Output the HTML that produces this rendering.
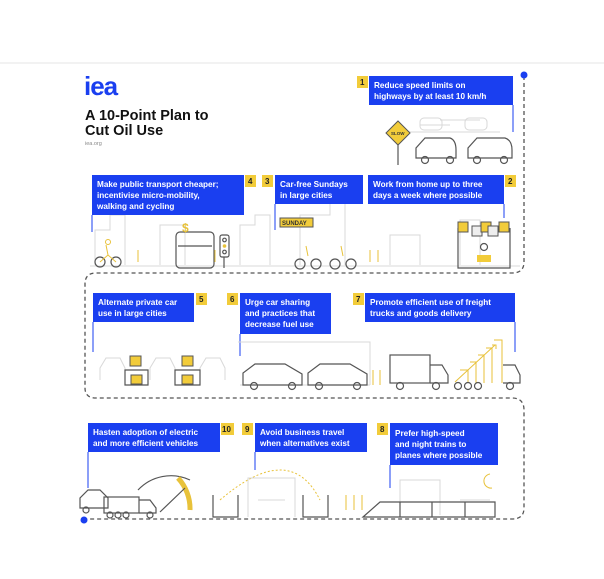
<!DOCTYPE html>
<html><head><meta charset="utf-8"><style>
html,body{margin:0;padding:0;background:#fff;width:604px;height:579px;overflow:hidden}
svg{display:block}
text{font-family:"Liberation Sans",sans-serif}
.b{fill:#1a3ff0}.y{fill:#f2cc3a}
.t{fill:#fff;font-size:8.2px;font-weight:bold}
.n{fill:#222;font-size:8px;font-weight:bold}
.g{fill:none;stroke:#d8d8d8;stroke-width:1}
.k{fill:none;stroke:#555;stroke-width:1.2}
.ye{fill:none;stroke:#e8c23a;stroke-width:1}
.bl{stroke:#1a3ff0;stroke-width:1}
</style></head><body>
<svg width="604" height="579" viewBox="0 0 604 579">
<line x1="0" y1="63" x2="604" y2="63" stroke="#e6e6e6"/>
<!-- logo -->
<text x="84" y="95" font-size="26" font-weight="bold" fill="#1a3ff0" letter-spacing="-1">iea</text>
<text x="85" y="120" font-size="14.5" font-weight="bold" fill="#111">A 10-Point Plan to</text>
<text x="85" y="135" font-size="14.5" font-weight="bold" fill="#111">Cut Oil Use</text>
<text x="85" y="145" font-size="5.5" fill="#888">iea.org</text>
<!-- dashed path -->
<path d="M524 76 V262 Q524 273 512 273 H96 Q85 273 85 284 V388 Q85 398 96 398 H512 Q524 398 524 410 V508 Q524 519 512 519 H84" fill="none" stroke="#555" stroke-width="1.3" stroke-dasharray="4,3"/>
<circle cx="524" cy="75" r="3.5" fill="#1a3ff0"/>
<circle cx="84" cy="520" r="3.5" fill="#1a3ff0"/>
<!-- city skyline faint -->
<path class="g" d="M95 265 V230 H110 V215 H125 V265 M160 265 V225 H185 V265 M240 265 V225 H255 V215 H270 V265 M300 265 V215 H330 V200 H345 V265 M390 265 V235 H420 V265 M460 265 V220 H480 V265 M90 266 H520"/>
<path class="g" d="M405 132 L500 132 M420 125 H450 M440 120 H480"/>
<rect x="420" y="118" width="22" height="12" rx="4" class="g"/><rect x="465" y="118" width="22" height="12" rx="4" class="g"/>
<!-- box1 -->
<rect x="357" y="76" width="11" height="12" class="y"/><text x="360" y="85" class="n">1</text>
<rect x="369" y="76" width="144" height="29" class="b"/>
<text x="374" y="88" class="t">Reduce speed limits on</text><text x="374" y="99" class="t">highways by at least 10 km/h</text>
<line x1="513" y1="105" x2="513" y2="132" class="bl"/>
<!-- slow sign & cars -->
<path d="M398 121 L410 133 L398 145 L386 133Z" fill="#f2cc3a" stroke="#555"/><text x="391" y="135" font-size="4.5" font-weight="bold" fill="#333">SLOW</text>
<line x1="398" y1="145" x2="398" y2="165" class="k"/>
<path class="k" d="M416 158 V148 L425 138 H450 Q456 140 456 150 V158 Z"/><circle cx="425" cy="160" r="3.5" class="k" fill="#fff"/><circle cx="450" cy="160" r="3.5" class="k" fill="#fff"/>
<path class="k" d="M468 158 V148 L477 138 H505 Q512 140 512 150 V158 Z"/><circle cx="477" cy="160" r="3.5" class="k" fill="#fff"/><circle cx="504" cy="160" r="3.5" class="k" fill="#fff"/>
<!-- row 2 boxes -->
<rect x="92" y="175" width="152" height="40" class="b"/>
<text x="97" y="187" class="t">Make public transport cheaper;</text><text x="97" y="198" class="t">incentivise micro-mobility,</text><text x="97" y="209" class="t">walking and cycling</text>
<rect x="245" y="175" width="11" height="12" class="y"/><text x="248" y="184" class="n">4</text>
<line x1="92" y1="215" x2="92" y2="232" class="bl"/>
<rect x="262" y="175" width="11" height="12" class="y"/><text x="265" y="184" class="n">3</text>
<rect x="275" y="175" width="88" height="29" class="b"/>
<text x="280" y="187" class="t">Car-free Sundays</text><text x="280" y="198" class="t">in large cities</text>
<line x1="275" y1="204" x2="275" y2="230" class="bl"/>
<rect x="368" y="175" width="136" height="29" class="b"/>
<text x="373" y="187" class="t">Work from home up to three</text><text x="373" y="198" class="t">days a week where possible</text>
<rect x="505" y="175" width="11" height="12" class="y"/><text x="508" y="184" class="n">2</text>
<line x1="504" y1="204" x2="504" y2="218" class="bl"/>
<!-- row2 illus -->
<circle cx="100" cy="262" r="5" class="k"/><circle cx="116" cy="262" r="5" class="k"/><path class="ye" d="M108 255 L106 245 M100 262 L108 255 L116 262"/><circle cx="108" cy="242" r="2.5" class="ye"/>
<rect x="176" y="232" width="38" height="36" rx="4" class="k"/><line x1="178" y1="246" x2="212" y2="246" class="k"/>
<text x="182" y="232" font-size="12" font-weight="bold" fill="#e8c23a">$</text>
<rect x="220" y="235" width="9" height="22" rx="2" class="k"/><line x1="224" y1="257" x2="224" y2="268" class="k"/>
<circle cx="224.5" cy="240" r="1.8" class="k"/><circle cx="224.5" cy="246" r="1.8" fill="#e8c23a"/><circle cx="224.5" cy="252" r="1.8" class="k"/>
<rect x="280" y="218" width="33" height="9" fill="#f2cc3a" stroke="#555"/><text x="282" y="225" font-size="6" font-weight="bold" fill="#333">SUNDAY</text>
<circle cx="300" cy="264" r="5" class="k"/><circle cx="316" cy="264" r="5" class="k"/><circle cx="335" cy="264" r="5" class="k"/><circle cx="351" cy="264" r="5" class="k"/>
<path class="ye" d="M308 256 L306 246 M343 256 L341 246 M370 250 V262 M378 250 V262 M138 250 V262 M215 250 V262"/>
<path class="k" d="M458 228 V268 H510 V228"/>
<rect x="458" y="222" width="10" height="10" fill="#f2cc3a" stroke="#555"/><rect x="472" y="226" width="10" height="10" fill="#eee" stroke="#555"/><rect x="481" y="222" width="10" height="10" fill="#f2cc3a" stroke="#555"/><rect x="488" y="226" width="10" height="10" fill="#eee" stroke="#555"/><rect x="499" y="222" width="10" height="10" fill="#f2cc3a" stroke="#555"/>
<circle cx="484" cy="247" r="3.5" class="k"/><rect x="477" y="255" width="14" height="7" fill="#f2cc3a"/>
<!-- row 3 boxes -->
<rect x="93" y="293" width="101" height="29" class="b"/>
<text x="98" y="305" class="t">Alternate private car</text><text x="98" y="316" class="t">use in large cities</text>
<rect x="196" y="293" width="11" height="12" class="y"/><text x="199" y="302" class="n">5</text>
<line x1="93" y1="322" x2="93" y2="352" class="bl"/>
<rect x="227" y="293" width="11" height="12" class="y"/><text x="230" y="302" class="n">6</text>
<rect x="240" y="293" width="91" height="41" class="b"/>
<text x="245" y="305" class="t">Urge car sharing</text><text x="245" y="316" class="t">and practices that</text><text x="245" y="327" class="t">decrease fuel use</text>
<line x1="240" y1="334" x2="240" y2="356" class="bl"/>
<rect x="353" y="293" width="11" height="12" class="y"/><text x="356" y="302" class="n">7</text>
<rect x="365" y="293" width="150" height="29" class="b"/>
<text x="370" y="305" class="t">Promote efficient use of freight</text><text x="370" y="316" class="t">trucks and goods delivery</text>
<line x1="515" y1="322" x2="515" y2="352" class="bl"/>
<!-- row3 illus -->
<path class="g" d="M100 380 V368 L106 358 H120 L125 368 V380 M150 380 V368 L156 358 H170 L175 368 V380 M200 380 V368 L206 358 H220 L225 368 V380 M238 342 H370 V385 M240 385 H370"/>
<rect x="130" y="356" width="11" height="10" fill="#f2cc3a" stroke="#555"/><path class="k" d="M125 385 V370 H148 V385 Z"/><rect x="131" y="375" width="11" height="9" fill="#f2cc3a" stroke="#555"/>
<rect x="182" y="356" width="11" height="10" fill="#f2cc3a" stroke="#555"/><path class="k" d="M175 385 V370 H200 V385 Z"/><rect x="182" y="375" width="11" height="9" fill="#f2cc3a" stroke="#555"/>
<path class="k" d="M243 385 V373 L255 364 H285 L302 374 V385 Z"/><circle cx="254" cy="386" r="3.5" class="k" fill="#fff"/><circle cx="292" cy="386" r="3.5" class="k" fill="#fff"/>
<path class="k" d="M308 385 V373 L320 364 H350 L367 374 V385 Z"/><circle cx="319" cy="386" r="3.5" class="k" fill="#fff"/><circle cx="357" cy="386" r="3.5" class="k" fill="#fff"/>
<path class="ye" d="M373 370 V385 M380 370 V385"/>
<rect x="390" y="355" width="40" height="28" class="k"/><path class="k" d="M430 365 H442 L448 375 V383 H430"/>
<circle cx="400" cy="386" r="3.5" class="k" fill="#fff"/><circle cx="436" cy="386" r="3.5" class="k" fill="#fff"/>
<path class="ye" d="M455 382 L495 345 M492 345 H496 V349"/>
<path class="ye" d="M460 370 H468 V383 M470 362 H476 V383 M478 355 H484 V383 M486 348 H492 V383 M494 340 H502 V383"/>
<path class="k" d="M503 365 H515 L520 375 V383 H503"/>
<circle cx="458" cy="386" r="3.5" class="k" fill="#fff"/><circle cx="468" cy="386" r="3.5" class="k" fill="#fff"/><circle cx="478" cy="386" r="3.5" class="k" fill="#fff"/><circle cx="510" cy="386" r="3.5" class="k" fill="#fff"/>
<!-- row 4 boxes -->
<rect x="88" y="423" width="132" height="29" class="b"/>
<text x="93" y="435" class="t">Hasten adoption of electric</text><text x="93" y="446" class="t">and more efficient vehicles</text>
<rect x="221" y="423" width="13" height="12" class="y"/><text x="222" y="432" class="n">10</text>
<line x1="88" y1="452" x2="88" y2="488" class="bl"/>
<rect x="242" y="423" width="11" height="12" class="y"/><text x="245" y="432" class="n">9</text>
<rect x="255" y="423" width="112" height="29" class="b"/>
<text x="260" y="435" class="t">Avoid business travel</text><text x="260" y="446" class="t">when alternatives exist</text>
<line x1="255" y1="452" x2="255" y2="470" class="bl"/>
<rect x="377" y="423" width="11" height="12" class="y"/><text x="380" y="432" class="n">8</text>
<rect x="390" y="423" width="108" height="42" class="b"/>
<text x="395" y="436" class="t">Prefer high-speed</text><text x="395" y="447" class="t">and night trains to</text><text x="395" y="458" class="t">planes where possible</text>
<line x1="390" y1="465" x2="390" y2="488" class="bl"/>
<!-- row4 illus -->
<path class="k" d="M80 508 V498 L88 490 H100 L108 498 V508 Z"/><circle cx="86" cy="510" r="3" class="k"/>
<rect x="104" y="497" width="35" height="16" class="k"/><path class="k" d="M139 500 H150 L156 508 V513 H139"/>
<circle cx="110" cy="515" r="3" class="k"/><circle cx="118" cy="515" r="3" class="k"/><circle cx="126" cy="515" r="3" class="k"/><circle cx="150" cy="515" r="3" class="k"/>
<path d="M138 490 A45 45 0 0 1 190 480" class="k"/><path d="M178 478 A45 45 0 0 1 190 510" stroke="#e8c23a" stroke-width="5" fill="none"/>
<line x1="160" y1="512" x2="185" y2="488" class="k"/>
<path d="M220 500 Q290 440 320 500" fill="none" stroke="#e8c23a" stroke-dasharray="2,2"/>
<path class="k" d="M213 495 V517 H238 V495 M303 495 V517 H328 V495"/>
<path class="g" d="M248 517 V478 H295 V517 M258 500 H285"/>
<path class="ye" d="M346 495 V510 M354 495 V510 M362 495 V510"/>
<path class="g" d="M400 515 V480 H440 V515 M460 500 H490"/>
<path class="k" d="M363 517 L380 502 H495 V517 Z M400 502 V517 M432 502 V517 M465 502 V517"/>
<path d="M490 474 A7 7 0 1 0 492 488 A6 6 0 1 1 490 474" fill="none" stroke="#e8c23a"/>
</svg>
</body></html>
